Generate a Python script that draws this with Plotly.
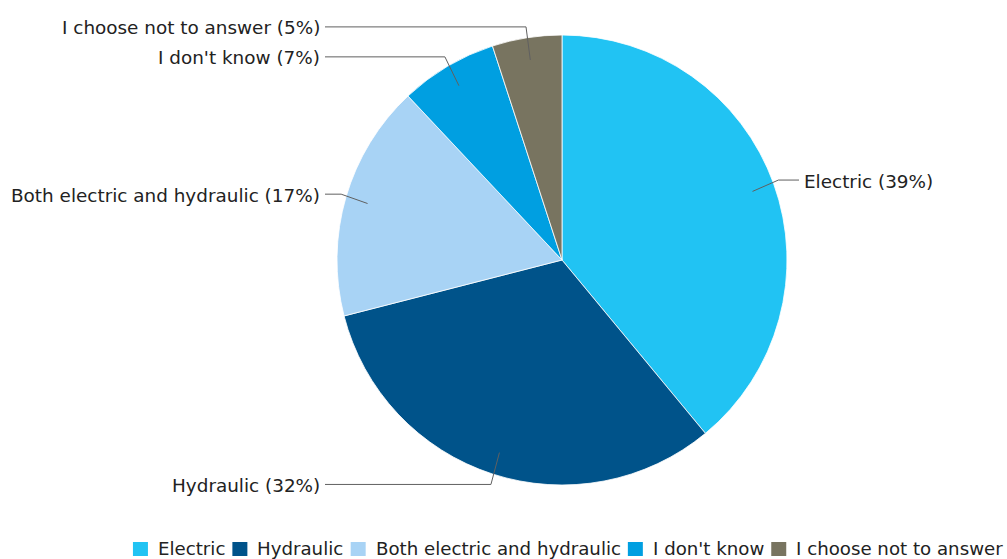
import math
import plotly.graph_objects as go

categories = ["Electric", "Hydraulic", "Both electric and hydraulic", "I don't know", "I choose not to answer"]
values = [39, 32, 17, 7, 5]
colors = ["#21C3F3", "#00538A", "#A8D3F5", "#009FE1", "#787460"]

W, H = 1007, 559
CX, CY, R = 562, 260, 225
FONT = "DejaVu Sans"
FS = 18.4
FS_LEG = 18.2
TEXT_COLOR = "#222222"

# DejaVu Sans advance widths (units per em = 2048), used to lay out the legend row
ADV = {" ": 651, "'": 563, "B": 1405, "E": 1294, "H": 1540, "I": 604, "a": 1255,
       "c": 1126, "d": 1300, "e": 1260, "h": 1298, "i": 569, "k": 1186, "l": 569,
       "n": 1298, "o": 1253, "r": 842, "s": 1067, "t": 803, "u": 1298, "w": 1675,
       "y": 1212}

def text_width(s, size):
    return sum(ADV.get(ch, 1200) for ch in s) / 2048 * size

def px(x):
    return x / W

def py(y):
    return (H - y) / H

fig = go.Figure(go.Pie(
    labels=categories, values=values, sort=False, direction="clockwise", rotation=0,
    marker=dict(colors=colors, line=dict(color="#FFFFFF", width=0.8)),
    textinfo="none", hoverinfo="label+percent", showlegend=False,
    domain=dict(x=[px(CX - R), px(CX + R)], y=[py(CY + R), py(CY - R)]),
))

total = sum(values)
cum = 0
shapes = []
annotations = []
for cat, v in zip(categories, values):
    mid = (cum + v / 2) / total * 2 * math.pi
    cum += v
    s, c = math.sin(mid), math.cos(mid)
    x0, y0 = CX + 0.9 * R * s, CY - 0.9 * R * c
    ly = CY - (R + 11) * c
    xb = CX + (R + 5) * s
    right = s >= 0
    xe = CX + 237 if right else CX - 237
    xt = CX + 240 if right else CX - 240
    pct = round(v / total * 100)
    path = f"M {px(x0)},{py(y0)} L {px(xb)},{py(ly)} L {px(xe)},{py(ly)}"
    shapes.append(dict(type="path", xref="paper", yref="paper", path=path,
                       line=dict(color="#606060", width=1)))
    annotations.append(dict(x=px(xt), y=py(ly + 1), xref="paper", yref="paper",
                            text=f"{cat} ({pct}%)", showarrow=False,
                            xanchor="left" if right else "right", yanchor="middle",
                            font=dict(family=FONT, size=FS, color=TEXT_COLOR)))

# legend row (square + label), centred under the chart
SQ, GAP_TXT, GAP_ITEM = 15, 23, 9
LEG_CX, LEG_CY = 567, 549
widths = [text_width(cat, FS_LEG) for cat in categories]
leg_total = sum(widths) + len(categories) * GAP_TXT + (len(categories) - 1) * GAP_ITEM
x = LEG_CX - leg_total / 2
for cat, col, w in zip(categories, colors, widths):
    shapes.append(dict(type="rect", xref="paper", yref="paper",
                       x0=px(x), x1=px(x + SQ), y0=py(LEG_CY + 7), y1=py(LEG_CY - 7),
                       fillcolor=col, line=dict(width=0)))
    annotations.append(dict(x=px(x + GAP_TXT), y=py(LEG_CY - 0.5), xref="paper", yref="paper",
                            text=cat, showarrow=False, xanchor="left", yanchor="middle",
                            font=dict(family=FONT, size=FS_LEG, color=TEXT_COLOR)))
    x += GAP_TXT + w + GAP_ITEM

fig.update_layout(
    width=W, height=H, margin=dict(l=0, r=0, t=0, b=0),
    paper_bgcolor="white", plot_bgcolor="white",
    shapes=shapes, annotations=annotations,
    showlegend=False,
)
fig.write_html("out.html")
